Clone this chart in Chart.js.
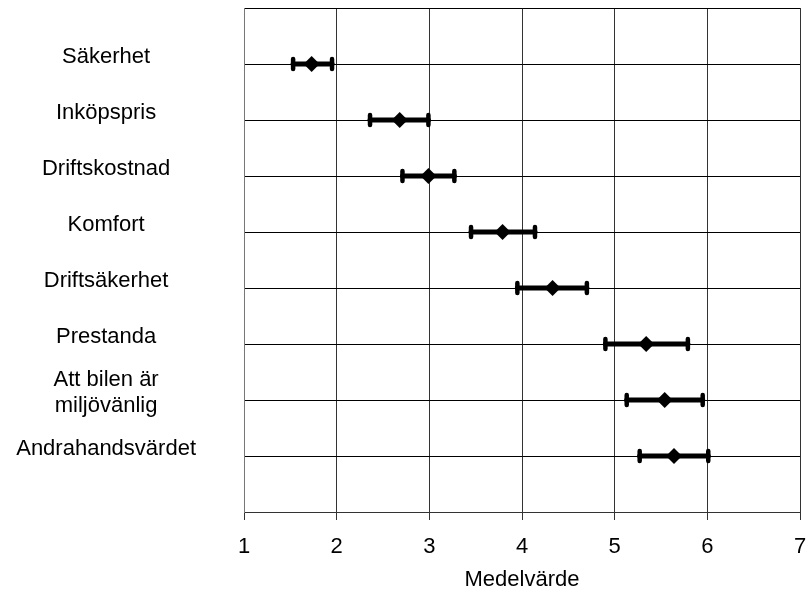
<!DOCTYPE html>
<html>
<head>
<meta charset="utf-8">
<script src="https://cdn.jsdelivr.net/npm/chart.js@4/dist/chart.umd.min.js"></script>
<style>
    body { margin: 0; background: #fff; }
    canvas { display: block; }
</style>
</head>
<body>
<canvas id="chart" width="808" height="595"></canvas>
<script>
    // egenskaper, medelvärde och felstaplar (läst ur bilden)
    var categories = ['Säkerhet', 'Inköpspris', 'Driftskostnad', 'Komfort', 'Driftsäkerhet', 'Prestanda', ['Att bilen är', 'miljövänlig'], 'Andrahandsvärdet'];
    var means = [1.73, 2.68, 2.99, 3.79, 4.33, 5.34, 5.54, 5.64];
    var lows = [1.53, 2.36, 2.71, 3.45, 3.95, 4.90, 5.13, 5.27];
    var highs = [1.95, 2.99, 3.27, 4.14, 4.70, 5.79, 5.95, 6.01];
    var xTicks = [1, 2, 3, 4, 5, 6, 7];
    var axisTitle = 'Medelvärde';

    var font = { family: "'Liberation Sans', Arial, sans-serif", size: 22 };

    var points = means.map(function(m, i){
        return { x: m, y: i + 1 };
    });

    var errorBars = {
        id: 'errorBars',
        beforeDatasetsDraw: function(chart){
            var ctx = chart.ctx;
            var xs = chart.scales.x;
            var ys = chart.scales.y;
            ctx.save();
            ctx.strokeStyle = '#000';
            ctx.lineCap = 'round';
            for (var i = 0; i < means.length; i++) {
                var y = ys.getPixelForValue(i + 1);
                var x1 = xs.getPixelForValue(lows[i]);
                var x2 = xs.getPixelForValue(highs[i]);
                ctx.lineWidth = 5;
                ctx.beginPath();
                ctx.moveTo(x1, y);
                ctx.lineTo(x2, y);
                ctx.stroke();
                ctx.lineWidth = 4.5;
                ctx.beginPath();
                ctx.moveTo(x1, y - 5);
                ctx.lineTo(x1, y + 5);
                ctx.moveTo(x2, y - 5);
                ctx.lineTo(x2, y + 5);
                ctx.stroke();
            }
            ctx.restore();
        }
    };

    new Chart(document.getElementById('chart'), {
        type: 'scatter',
        data: {
            datasets: [{
                data: points,
                pointStyle: 'rectRot',
                pointRadius: 8,
                borderWidth: 0,
                backgroundColor: '#000',
                borderColor: '#000'
            }]
        },
        options: {
            responsive: false,
            animation: false,
            layout: { padding: { top: 8, right: 8, left: 0, bottom: 0 } },
            plugins: {
                legend: { display: false },
                tooltip: { enabled: false }
            },
            scales: {
                x: {
                    type: 'linear',
                    min: 1,
                    max: 7,
                    afterBuildTicks: function(scale){
                        scale.ticks = xTicks.map(function(v){ return { value: v }; });
                    },
                    afterFit: function(scale){
                        scale.height = 83;
                        scale.paddingLeft = 0;
                        scale.paddingRight = 0;
                    },
                    grid: { color: '#333', lineWidth: 1, tickLength: 8, drawTicks: true },
                    border: { color: '#333', width: 1 },
                    ticks: { font: font, color: '#000', padding: 14, maxRotation: 0 },
                    title: {
                        display: true,
                        text: axisTitle,
                        font: font,
                        color: '#000',
                        padding: { top: 4, bottom: 2 }
                    }
                },
                y: {
                    type: 'linear',
                    min: 0,
                    max: 9,
                    reverse: true,
                    afterFit: function(scale){
                        scale.width = 244;
                        scale.paddingTop = 0;
                        scale.paddingBottom = 0;
                    },
                    grid: { color: '#000', lineWidth: 1, drawTicks: false },
                    border: { color: '#777', width: 1 },
                    ticks: {
                        stepSize: 1,
                        autoSkip: false,
                        font: font,
                        color: '#000',
                        padding: 48,
                        crossAlign: 'center',
                        labelOffset: -7,
                        callback: function(value){
                            return categories[value - 1] || '';
                        }
                    }
                }
            }
        },
        plugins: [errorBars]
    });
</script>
</body>
</html>
